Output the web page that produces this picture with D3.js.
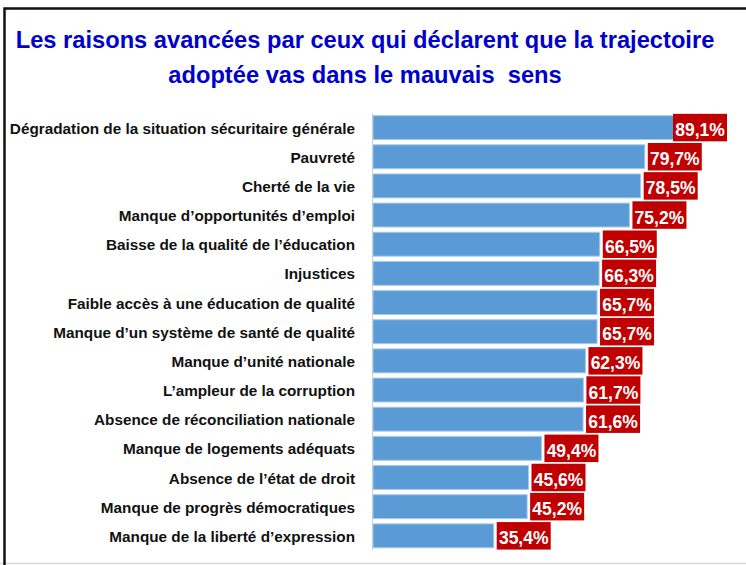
<!DOCTYPE html>
<html>
<head>
<meta charset="utf-8">
<script src="https://cdn.jsdelivr.net/npm/d3@7"></script>
<style>
  body { margin: 0; background: #fff; }
  svg { display: block; }
</style>
</head>
<body>
<script>
// Width and height
var w = 746;
var h = 565;

// Data
var categories = [
  "Dégradation de la situation sécuritaire générale",
  "Pauvreté",
  "Cherté de la vie",
  "Manque d’opportunités d’emploi",
  "Baisse de la qualité de l’éducation",
  "Injustices",
  "Faible accès à une éducation de qualité",
  "Manque d’un système de santé de qualité",
  "Manque d’unité nationale",
  "L’ampleur de la corruption",
  "Absence de réconciliation nationale",
  "Manque de logements adéquats",
  "Absence de l’état de droit",
  "Manque de progrès démocratiques",
  "Manque de la liberté d’expression"
];
var values = [89.1, 79.7, 78.5, 75.2, 66.5, 66.3, 65.7, 65.7, 62.3, 61.7, 61.6, 49.4, 45.6, 45.2, 35.4];
var titleLines = [
  "Les raisons avancées par ceux qui déclarent que la trajectoire",
  "adoptée vas dans le mauvais  sens"
];

var frLocale = d3.formatLocale({ decimal: ",", thousands: " ", grouping: [3], currency: ["", " €"] });
var fmt = frLocale.format(".1f");

var font = "'Liberation Sans', Arial, sans-serif";

// Scales
var xScale = d3.scaleLinear()
  .domain([0, 100])
  .range([373, 714]);

var yScale = d3.scaleBand()
  .domain(d3.range(categories.length))
  .range([113, 550.4])
  .paddingInner(0.18)
  .paddingOuter(0.09);

var svg = d3.select("body")
  .append("svg")
  .attr("width", w)
  .attr("height", h);

// frame
svg.append("line")
  .attr("x1", 0).attr("x2", w)
  .attr("y1", 563.5).attr("y2", 563.5)
  .attr("stroke", "#d9d9d9")
  .attr("stroke-width", 1.5);
svg.append("path")
  .attr("d", "M4.5," + h + "V8.5H" + w)
  .attr("fill", "none")
  .attr("stroke", "#111")
  .attr("stroke-width", 2.5);

// title
svg.selectAll(".title")
  .data(titleLines)
  .enter()
  .append("text")
  .attr("class", "title")
  .attr("transform", function(d, i) {
    return "translate(365," + (48.3 + i * 35) + ") scale(0.987,1)";
  })
  .attr("text-anchor", "middle")
  .style("font-family", font)
  .style("font-weight", "bold")
  .style("font-size", "24px")
  .style("fill", "#0000cc")
  .style("white-space", "pre")
  .text(function(d) { return d; });

// axis line
svg.append("line")
  .attr("x1", 372.5).attr("x2", 372.5)
  .attr("y1", yScale.range()[0]).attr("y2", yScale.range()[1])
  .attr("stroke", "#d0d0d0")
  .attr("stroke-width", 1);

// category labels
svg.selectAll(".cat")
  .data(categories)
  .enter()
  .append("text")
  .attr("class", "cat")
  .attr("x", 355)
  .attr("y", function(d, i) { return yScale(i) + yScale.bandwidth() / 2 + 6; })
  .attr("text-anchor", "end")
  .style("font-family", font)
  .style("font-weight", "bold")
  .style("font-size", "15.3px")
  .style("fill", "#111")
  .text(function(d) { return d; });

// bars
svg.selectAll(".bar")
  .data(values)
  .enter()
  .append("rect")
  .attr("class", "bar")
  .attr("x", xScale(0))
  .attr("y", function(d, i) { return yScale(i); })
  .attr("width", function(d) { return xScale(d) - xScale(0); })
  .attr("height", yScale.bandwidth())
  .attr("fill", "#5b9bd5")
  .attr("stroke", "#a8c9ec")
  .attr("stroke-width", 1);

// value boxes
var boxW = 54, boxH = 27.5, rightLimit = 727;
var boxes = svg.selectAll(".val")
  .data(values)
  .enter()
  .append("g")
  .attr("class", "val")
  .attr("transform", function(d, i) {
    var x = Math.min(xScale(d) + 3, rightLimit - boxW);
    var y = yScale(i) + yScale.bandwidth() / 2 - boxH / 2;
    return "translate(" + x + "," + y + ")";
  });

boxes.append("rect")
  .attr("width", boxW)
  .attr("height", boxH)
  .attr("fill", "#c00000");

boxes.append("text")
  .attr("x", boxW / 2)
  .attr("y", boxH / 2 + 8.5)
  .attr("text-anchor", "middle")
  .style("font-family", font)
  .style("font-weight", "bold")
  .style("font-size", "17.5px")
  .style("fill", "#fff")
  .text(function(d) { return fmt(d) + "%"; });
</script>
</body>
</html>
